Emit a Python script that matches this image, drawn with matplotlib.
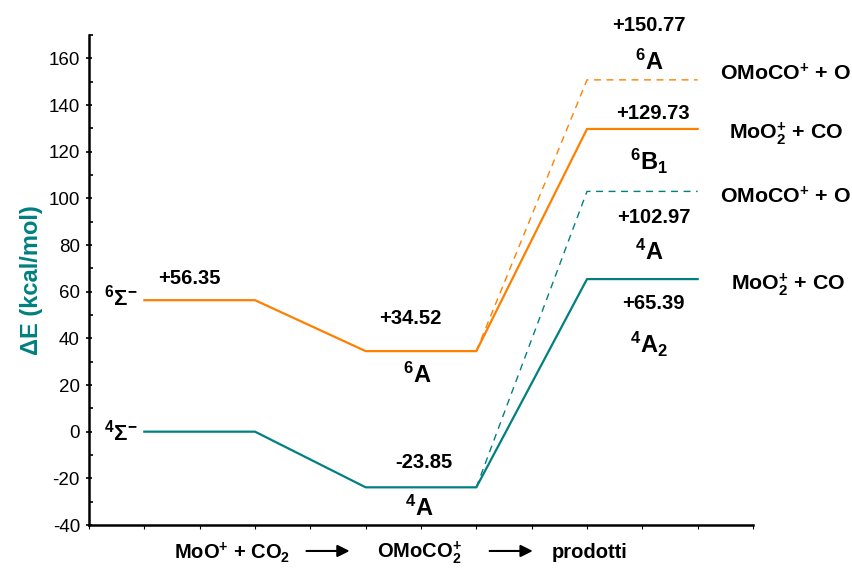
import matplotlib
matplotlib.use("Agg")
import matplotlib.pyplot as plt
from matplotlib.ticker import MultipleLocator

plt.rcParams['font.family'] = ['Liberation Sans', 'DejaVu Sans']
plt.rcParams['axes.unicode_minus'] = False
plt.rcParams['mathtext.fontset'] = 'custom'
plt.rcParams['mathtext.rm'] = 'Liberation Sans:bold'
plt.rcParams['mathtext.bf'] = 'Liberation Sans:bold'
plt.rcParams['mathtext.it'] = 'Liberation Sans:bold'

ORANGE = '#ff8000'
TEAL = '#008080'

# energies (kcal/mol): reactants, intermediate, products
sextet = [56.35, 34.52, 129.73]
quartet = [0.0, -23.85, 65.39]
sextet_alt = 150.77   # OMoCO+ + O, sextet
quartet_alt = 102.97  # OMoCO+ + O, quartet

stages = ['MoO$^{+}$ + CO$_{2}$', 'OMoCO$_{2}^{+}$', 'prodotti']
states_sextet = ['$^{6}$Σ$^{-}$', '$^{6}$A', '$^{6}$B$_{1}$']
states_quartet = ['$^{4}$Σ$^{-}$', '$^{4}$A', '$^{4}$A$_{2}$']
alt_states = ['$^{6}$A', '$^{4}$A']
prod_names = ['MoO$_{2}^{+}$ + CO', 'OMoCO$^{+}$ + O']

# each level spans two units, levels at [1,3], [5,7], [9,11]
starts = [1, 5, 9]


def profile(levels):
    xs, ys = [], []
    for s, e in zip(starts, levels):
        xs += [s, s + 2]
        ys += [e, e]
    return xs, ys


fig = plt.figure(figsize=(8.53, 5.69), dpi=100)
ax = fig.add_axes([89 / 853, 44 / 569, 664 / 853, 490 / 569])

x, y = profile(sextet)
ax.plot(x, y, color=ORANGE, lw=1.6)
x, y = profile(quartet)
ax.plot(x, y, color=TEAL, lw=1.6)
ax.plot([7, 9, 11], [sextet[1], sextet_alt, sextet_alt], color=ORANGE,
        lw=1.0, dashes=(5, 4))
ax.plot([7, 9, 11], [quartet[1], quartet_alt, quartet_alt], color=TEAL,
        lw=1.0, dashes=(5, 4))

ax.set_xlim(0, 12)
ax.set_ylim(-40, 170)
ax.yaxis.set_major_locator(MultipleLocator(20))
ax.yaxis.set_minor_locator(MultipleLocator(10))
ax.xaxis.set_major_locator(MultipleLocator(1))
ax.set_xticklabels([])
ax.tick_params(axis='y', which='major', direction='inout', length=5,
               width=1.2, labelsize=13.5, pad=4)
ax.tick_params(axis='y', which='minor', direction='in', length=3, width=1.2)
ax.tick_params(axis='x', which='major', direction='out', length=3, width=0.8)
for side in ['top', 'right']:
    ax.spines[side].set_visible(False)
for side in ['left', 'bottom']:
    ax.spines[side].set_linewidth(1.8)
ax.set_ylabel('ΔE (kcal/mol)', color=TEAL, fontsize=17, fontweight='bold',
              labelpad=4)

bold = dict(fontsize=14.5, fontweight='bold', ha='center', va='center',
            clip_on=False)

# energy values
ax.text(1.82, 65.8, f'+{sextet[0]:.2f}', **bold)
ax.text(5.8, 48.6, f'+{sextet[1]:.2f}', **bold)
ax.text(6.06, -13.4, f'{quartet[1]:.2f}', **bold)
ax.text(10.12, 174.1, f'+{sextet_alt:.2f}', **bold)
ax.text(10.2, 136.4, f'+{sextet[2]:.2f}', **bold)
ax.text(10.2, 91.9, f'+{quartet_alt:.2f}', **bold)
ax.text(10.2, 55.1, f'+{quartet[2]:.2f}', **bold)

# state symbols
sig = dict(fontsize=16, fontweight='bold', ha='center', va='center',
           clip_on=False)
ax.text(0.58, 57.6, states_sextet[0], **sig)
ax.text(0.58, -0.3, states_quartet[0], **sig)
big = dict(fontsize=17, fontweight='bold', ha='center', va='center',
           clip_on=False)
ax.text(5.93, 24.2, states_sextet[1], **big)
ax.text(5.97, -32.7, states_quartet[1], **big)
ax.text(10.12, 158.3, alt_states[0], **big)
ax.text(10.12, 116.0, states_sextet[2], **big)
ax.text(10.12, 76.9, alt_states[1], **big)
ax.text(10.12, 37.5, states_quartet[2], **big)

# product names on the right
name = dict(fontsize=15.4, fontweight='bold', ha='center', va='center',
            clip_on=False)
ax.text(12.58, 153.6, prod_names[1], **name)
ax.text(12.6, 127.8, prod_names[0], **name)
ax.text(12.58, 100.5, prod_names[1], **name)
ax.text(12.64, 63.0, prod_names[0], **name)

# reaction path below the axis
xa = ax.get_xaxis_transform()
for xc, lab in zip([2.58, 5.98, 9.05], stages):
    ax.text(xc, -0.057, lab, transform=xa, fontsize=14.5, fontweight='bold',
            ha='center', va='center', clip_on=False)
for x0, x1 in [(3.93, 4.71), (7.24, 8.02)]:
    ax.annotate('', xy=(x1, -0.053), xytext=(x0, -0.053), xycoords=xa,
                textcoords=xa,
                arrowprops=dict(arrowstyle='-|>', color='k', lw=1.5,
                                mutation_scale=18, shrinkA=0, shrinkB=0))

fig.savefig('out.png', dpi=100)
